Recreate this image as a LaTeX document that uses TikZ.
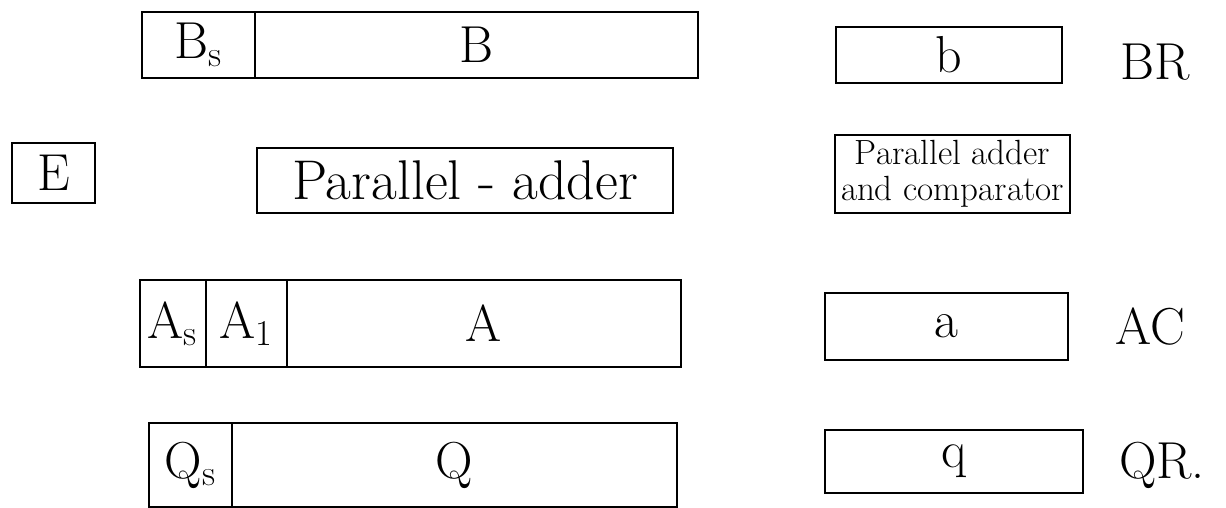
\documentclass[tikz,border=0pt]{standalone}
\usetikzlibrary{positioning}
\tikzset{regcell/.style={draw=black,line width=1.4pt,inner sep=0pt,outer sep=0pt,
 font=\fontsize{26}{30}\selectfont},
 unitbox/.style={draw=black,line width=1.4pt,inner sep=0pt,outer sep=0pt,align=center},
 reglabel/.style={font=\fontsize{26}{30}\selectfont,inner sep=0pt}}

\begin{document}
\begin{tikzpicture}[x=0.5pt,y=-0.5pt]
\useasboundingbox (0,0) rectangle (1226,508);
% B register and BR
\node[regcell,minimum width=56.5pt,minimum height=33pt] (Bs) at (198.5,45) {B\textsubscript{s}};
\node[regcell,minimum width=221.5pt,minimum height=33pt,right=0pt of Bs] (B) {B};
\node[regcell,minimum width=113pt,minimum height=28pt] (bcell) at (949,55) {b};
\node[reglabel] (BR) at (1155,62) {BR};
% E, adders
\node[regcell,minimum width=41.5pt,minimum height=30pt] (E) at (53.5,173) {E};
\node[unitbox,minimum width=208pt,minimum height=32.5pt,font=\fontsize{28}{32}\selectfont] (adder) at (465,180.5) {Parallel - adder};
\node[unitbox,minimum width=117.5pt,minimum height=39pt,font=\fontsize{17.5}{18}\selectfont] (addcmp) at (952.5,174) {Parallel adder\\and comparator};
% A register and AC
\node[regcell,minimum width=33pt,minimum height=43.5pt] (As) at (173,323.5) {A\textsubscript{s}};
\node[regcell,minimum width=40.5pt,minimum height=43.5pt,right=0pt of As] (A1) {A\textsubscript{1}};
\node[regcell,minimum width=197pt,minimum height=43.5pt,right=0pt of A1] (A) {A};
\node[regcell,minimum width=121.5pt,minimum height=33.5pt] (acell) at (946.5,326.5) {a};
\node[reglabel] (AC) at (1150,327) {AC};
% Q register and QR
\node[regcell,minimum width=41.5pt,minimum height=42pt] (Qs) at (190.5,465) {Q\textsubscript{s}};
\node[regcell,minimum width=222.5pt,minimum height=42pt,right=0pt of Qs] (Q) {Q};
\node[regcell,minimum width=129pt,minimum height=31.5pt] (qcell) at (954,461.5) {q};
\node[reglabel] (QR) at (1162,465) {QR.};
\end{tikzpicture}
\end{document}
